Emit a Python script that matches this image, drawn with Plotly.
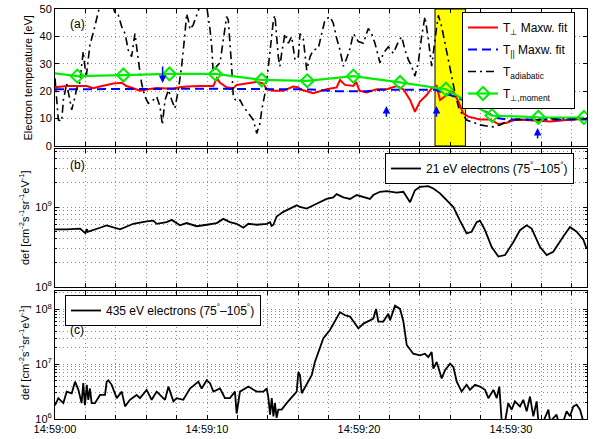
import plotly.graph_objects as go

# ---------------- data (seconds after 14:59:00) ----------------
tick_vals = [0, 2, 4, 6, 8, 10, 12, 14, 16, 18, 20, 22, 24, 26, 28, 30, 32, 34]
tick_text = ["14:59:00", "", "", "", "", "14:59:10", "", "", "", "", "14:59:20",
             "", "", "", "", "14:59:30", "", ""]

# Panel (a): electron temperatures [eV]
t_perp = [0, 0.77, 2.09, 2.52, 2.96, 3.84, 4.39, 4.7, 5.15, 5.59, 6.14, 6.69, 7.35, 7.79,
          8.22, 8.66, 9.54, 10.42, 10.64, 10.86, 11.29, 11.73, 11.95, 12.61, 13.27, 13.71,
          13.93, 14.37, 15.02, 15.68, 16.01, 16.12, 16.99, 17.87, 18.53, 18.75, 19.08, 19.63,
          19.81, 20.03, 20.5, 21.16, 21.82, 22.48, 22.92, 23.36, 23.68, 24.01, 24.45, 24.78,
          25.11, 25.33, 25.77, 26.21, 26.54, 26.86, 27.19, 27.96, 28.62, 29.17, 29.71, 30.37,
          31.47, 32.57, 33.66, 34.76, 35.0]
T_perp = [21.4, 21.9, 21.9, 21.1, 21.7, 22.8, 23.1, 21.9, 21.1, 20.2, 20.7, 21.2, 21.0, 21.0,
          21.4, 21.7, 21.9, 21.9, 24.7, 23.1, 21.4, 21.1, 22.3, 22.8, 23.4, 22.8,
          20.7, 20.2, 20.2, 21.7, 21.4, 20.7, 19.3, 20.7, 21.4, 24.1, 22.3, 21.9,
          23.4, 20.2, 19.5, 20.7, 20.7, 21.9, 20.7, 16.8, 12.5, 16.2, 18.6, 21.1,
          21.9, 16.8, 18.6, 19.8, 16.2, 11.9, 10.7, 9.7, 9.7, 8.0, 8.5, 9.7,
          9.2, 8.9, 9.5, 9.9, 9.9]

t_par = [0, 5, 10, 16, 16.9, 18.5, 20.5, 21.4, 25.0, 26.0, 26.86, 27.74, 28.51, 29.06, 29.71, 32.0, 35.0]
T_par = [20.7, 20.9, 20.9, 20.7, 20.6, 20.0, 20.0, 20.5, 20.5, 18.6, 16.8, 14.4, 12.0, 10.2, 9.7, 9.7, 9.7]

t_adi = [0, 0.22, 0.44, 0.55, 0.77, 0.99, 1.10, 1.32, 1.43, 1.6, 1.86, 2.05, 2.3, 2.55, 2.85,
         3.2, 3.6, 3.95, 4.17, 4.39, 4.61, 4.82, 5.04, 5.26, 5.48, 5.70, 5.92, 6.14, 6.47,
         6.69, 6.91, 7.06, 7.24, 7.46, 7.68, 7.89, 8.11, 8.33, 8.55, 8.66, 8.77, 8.88, 9.1,
         9.32, 9.54, 9.85, 10.2, 10.31, 10.42, 10.64, 10.86, 11.07, 11.29, 11.4, 11.51,
         11.62, 11.73, 11.95, 12.17, 12.39, 12.72, 13.05, 13.27, 13.49, 13.6, 13.82, 14.04,
         14.26, 14.37, 14.47, 14.69, 14.8, 14.91, 15.13, 15.35, 15.57, 15.79, 16.01,
         16.12, 16.34, 16.45, 16.56, 16.78, 16.99, 17.32, 17.54, 17.76, 18.09, 18.31, 18.53,
         18.75, 18.97, 19.19, 19.41, 19.63, 19.96, 20.29, 20.61, 20.83, 21.05, 21.38, 21.6,
         21.93, 22.26, 22.59, 22.81, 23.03, 23.25, 23.46, 23.68, 23.9, 24.12, 24.34, 24.56,
         24.78, 25.0, 25.22, 25.44, 25.66, 25.88, 26.1, 26.32, 26.54, 26.75, 27.08, 27.52,
         27.96, 28.4, 28.84, 29.28, 29.71, 30.37, 31.47, 32.78, 34.1, 34.87, 35.0]
T_adi = [24.7, 9.5, 9.0, 16.8, 22.8, 15.6, 13.2, 18.0, 21.1, 22.0, 34.5, 25.0, 37.0, 42.0, 50.5,
         57.0, 56.0, 48.3, 47.7, 43.5, 41.0, 35.0, 32.6, 41.0, 31.4, 22.8, 18.0, 15.6, 16.8,
         18.0, 14.4, 7.7, 16.8, 20.4, 16.8, 13.7, 20.4, 29.0, 41.0, 48.3, 46.0, 42.5, 44.3,
         47.3, 50.5, 56.0, 42.5, 36.4, 25.9, 29.1, 30.4, 38.9, 47.2, 46.0, 38.9,
         29.1, 18.0, 16.2, 16.8, 14.4, 12.0, 9.5, 4.6, 8.3, 13.2, 19.3, 29.1,
         38.9, 46.0, 47.7, 32.6, 29.1, 33.8, 41.0, 37.5, 39.9, 31.4, 32.6,
         41.0, 38.9, 33.8, 27.7, 32.6, 35.0, 35.6, 41.0, 46.0, 47.2, 44.8, 39.3,
         35.0, 29.1, 32.0, 35.6, 41.0, 38.1, 37.5, 42.9, 41.0, 37.5, 30.4, 33.8,
         36.2, 33.8, 38.1, 39.9, 35.0, 31.4, 29.1, 25.5, 30.4, 39.9, 47.2, 38.9,
         29.1, 38.9, 47.7, 43.5, 37.5, 30.4, 25.5, 19.3, 14.4, 12.0, 9.5, 8.5,
         7.7, 7.3, 7.0, 7.7, 8.9, 9.7, 9.5, 10.0, 10.0, 10.3, 10.3]

t_mom = [-1.55, 1.47, 4.50, 7.53, 10.55, 13.6, 16.6, 19.63, 22.7, 25.72, 28.75, 31.8, 34.8]
T_mom = [27.5, 25.5, 25.9, 26.3, 26.3, 24.1, 23.8, 25.5, 23.2, 20.7, 11.1, 10.5, 10.4]

# interval highlighted in yellow [s]
yellow_span = [25.0, 27.0]

# blue arrows: (time, tail, head) in eV
arrow_t = [7.08, 21.8, 25.1, 31.75]
arrow_tail = [29.6, 10.1, 10.1, 2.2]
arrow_head = [23.0, 14.6, 14.6, 6.6]

# Panel (b): 21 eV electron differential energy flux
t_21 = [0, 0.77, 1.65, 2.0, 2.09, 2.15, 2.96, 3.4, 4.28, 5.15, 6.03, 6.47, 6.69, 7.35, 7.68,
        8.22, 8.66, 9.32, 9.98, 10.64, 11.07, 11.51, 11.95, 12.39, 12.72, 13.27, 13.93,
        14.15, 14.25, 14.37, 14.58, 15.02, 15.46, 15.9, 16.12, 16.56, 17.21, 17.87, 18.31,
        18.53, 18.97, 19.41, 19.85, 20.72, 20.94, 21.38, 21.82, 22.48, 22.92, 23.36, 23.68,
        24.01, 24.56, 24.89, 25.33, 25.77, 26.21, 26.64, 27.08, 27.41, 27.74, 27.96, 28.29,
        28.73, 29.17, 29.61, 30.15, 30.59, 31.03, 31.36, 31.91, 32.35, 32.78, 33.44, 33.88,
        34.32, 34.76, 34.98]
def_21 = [5.25e8, 5.25e8, 5.37e8, 4.7e8, 5.3e8, 4.9e8, 5.5e8, 5.9e8, 5.25e8, 6.17e8, 6.6e8,
          6.76e8, 6.17e8, 6.46e8, 6.9e8, 5.9e8, 6.3e8, 5.75e8, 6.0e8, 6.3e8, 7.1e8, 6.46e8,
          6.17e8, 5.5e8, 6.17e8, 6.0e8, 6.17e8, 6.46e8, 5.8e8, 6.0e8, 7.6e8, 8.7e8, 9.55e8,
          1.05e9, 1.0e9, 9.55e8, 1.1e9, 1.26e9, 1.32e9, 1.45e9, 1.32e9, 1.26e9, 1.41e9,
          1.26e9, 1.41e9, 1.55e9, 1.58e9, 1.51e9, 1.55e9, 1.15e9, 1.62e9, 1.78e9, 1.82e9,
          1.70e9, 1.48e9, 1.20e9, 1.0e9, 6.76e8, 4.68e8, 4.9e8, 6.46e8, 6.76e8, 5.13e8,
          3.16e8, 2.4e8, 2.51e8, 3.63e8, 5.13e8, 5.9e8, 5.37e8, 3.16e8, 2.51e8, 2.75e8,
          4.27e8, 5.62e8, 4.9e8, 3.9e8, 3.0e8]

# Panel (c): 435 eV electron differential energy flux
t_435 = [0, 0.22, 0.55, 0.77, 1.1, 1.32, 1.54, 1.75, 1.86, 1.97, 2.09, 2.19, 2.3, 2.41, 2.63,
         2.96, 3.29, 3.4, 3.51, 3.73, 4.06, 4.39, 4.61, 4.93, 5.37, 5.59, 6.03, 6.36, 6.69,
         6.91, 7.24, 7.46, 7.79, 8.0, 8.44, 8.88, 9.21, 9.43, 9.65, 9.87, 9.98, 10.2, 10.42,
         10.86, 11.18, 11.51, 11.84, 11.95, 12.17, 12.72, 13.27, 13.71, 13.93, 14.04, 14.15,
         14.26, 14.37, 14.47, 14.58, 14.69, 14.91, 15.24, 15.68, 15.9, 16.01, 16.12, 16.23,
         16.56, 16.89, 17.1, 17.32, 17.65, 18.09, 18.53, 18.75, 19.08, 19.41, 19.96, 20.29,
         20.72, 20.94, 21.12, 21.27, 21.6, 21.93, 22.04, 22.37, 22.7, 22.92, 23.14, 23.57,
         24.01, 24.34, 24.56, 24.78, 24.89, 25.11, 25.44, 25.66, 25.99, 26.21, 26.43, 26.75,
         27.08, 27.3, 27.63, 27.96, 28.29, 28.51, 28.84, 29.06, 29.23, 29.39, 29.61, 29.82,
         30.04, 30.26, 30.59, 30.81, 31.03, 31.25, 31.47, 31.69, 31.8, 32.13, 32.46, 32.57,
         33.0, 33.11, 33.44, 33.66, 33.88, 34.1, 34.32, 34.54, 34.76]
def_435 = [1.78e6, 2.4e6, 1.95e6, 3.16e6, 2.95e6, 4.8e6, 3.4e6, 1.95e6, 4.5e6, 1.78e6, 4.2e6,
           2.24e6, 3.6e6, 1.95e6, 1.95e6, 2.75e6, 2.75e6, 4.8e6, 5.1e6, 4.2e6, 2.4e6, 3.16e6,
           1.7e6, 2.24e6, 2.75e6, 2.4e6, 3.4e6, 2.24e6, 3.16e6, 2.75e6, 2.24e6, 3.9e6, 2.1e6,
           2.4e6, 2.24e6, 3.6e6, 4.2e6, 4.8e6, 3.6e6, 4.5e6, 5.1e6, 4.5e6, 3.16e6, 3.6e6,
           2.4e6, 2.4e6, 3.16e6, 1.26e6, 3.16e6, 3.9e6, 3.16e6, 3.16e6, 3.6e6, 2.4e6, 1.2e6,
           2.4e6, 1.12e6, 1.95e6, 1.05e6, 1.48e6, 1.48e6, 1.95e6, 2.75e6, 3.16e6, 7.2e6,
           6.3e6, 2.95e6, 4.2e6, 6.3e6, 1.1e7, 1.66e7, 2.95e7, 4.2e7, 6.8e7, 8.9e7, 7.8e7,
           7.4e7, 4.5e7, 5.5e7, 6.3e7, 6.8e7, 1.02e8, 6.0e7, 6.0e7, 8.3e7, 6.3e7, 1.17e8,
           1.02e8, 6.0e7, 2.24e7, 1.55e7, 1.45e7, 1.55e7, 1.35e7, 1.66e7, 8.3e6, 1.1e7,
           5.5e6, 7.8e6, 1.02e7, 8.9e6, 4.8e6, 3.16e6, 4.2e6, 3.4e6, 4.2e6, 3.9e6, 3.4e6,
           2.4e6, 3.4e6, 2.4e6, 3.9e6, 0.9e6, 0.9e6, 1.95e6, 1.48e6, 2.1e6, 1.7e6, 2.24e6,
           1.38e6, 2.57e6, 1.12e6, 2.1e6, 0.9e6, 0.9e6, 1.48e6, 0.9e6, 1.2e6, 0.9e6, 0.9e6,
           1.38e6, 1.12e6, 1.7e6, 1.82e6, 1.48e6, 0.9e6]

# ---------------- figure ----------------
FONT = "Liberation Sans, Arial, Helvetica, sans-serif"
GRID = "#8c8c8c"
GDASH = "1px,3px"
W, H = 598, 439


def px(x):
    return x / W


def py(y):
    return 1 - y / H


XL, XR = px(55), px(587)

fig = go.Figure()

fig.add_trace(go.Scatter(x=t_perp, y=T_perp, mode="lines", name="T<sub>⊥</sub> Maxw. fit",
                         legendgroup="g1",
                         line=dict(color="#ff0000", width=2), xaxis="x", yaxis="y", legend="legend"))
fig.add_trace(go.Scatter(x=t_par, y=T_par, mode="lines", name="T<sub>||</sub> Maxw. fit",
                         legendgroup="g2",
                         line=dict(color="#0000ff", width=2, dash="9px,5px"), xaxis="x", yaxis="y",
                         legend="legend"))
fig.add_trace(go.Scatter(x=t_adi, y=T_adi, mode="lines", name="T<sub>adiabatic</sub>",
                         legendgroup="g3",
                         line=dict(color="black", width=1.6, dash="8px,4px,2px,4px"), xaxis="x",
                         yaxis="y", legend="legend"))
fig.add_trace(go.Scatter(x=t_mom, y=T_mom, mode="lines+markers", name="T<sub>⊥,moment</sub>",
                         legendgroup="g4",
                         line=dict(color="#00ee00", width=2.2),
                         marker=dict(symbol="diamond-open", size=10, color="#00ee00",
                                     line=dict(width=2, color="#00ee00")),
                         xaxis="x", yaxis="y", legend="legend"))
fig.add_trace(go.Scatter(x=t_21, y=def_21, mode="lines",
                         name="21 eV electrons (75<sup>°</sup>–105<sup>°</sup>)",
                         line=dict(color="black", width=1.8), xaxis="x2", yaxis="y2",
                         legend="legend2"))
fig.add_trace(go.Scatter(x=t_435, y=def_435, mode="lines",
                         name="435 eV electrons (75<sup>°</sup>–105<sup>°</sup>)",
                         line=dict(color="black", width=1.8), xaxis="x3", yaxis="y3",
                         legend="legend3"))


def xax(labels, anchor):
    return dict(domain=[XL, XR], range=[0, 35], anchor=anchor, tickmode="array",
                tickvals=tick_vals, ticktext=tick_text if labels else [""] * len(tick_vals),
                showticklabels=labels, ticks="inside", ticklen=4, tickcolor="black",
                showline=True, linecolor="black", linewidth=1, mirror="ticks",
                showgrid=True, gridcolor=GRID, griddash=GDASH, gridwidth=1,
                zeroline=False, automargin=False, tickfont=dict(size=11, color="black"))


minor_b = [k * 10 ** e for e in (8, 9) for k in range(2, 10) if k * 10 ** e < 5.4e9]
minor_c = [k * 10 ** e for e in (6, 7, 8) for k in range(2, 10) if k * 10 ** e < 2.2e8]


def ylog(dom, rng, anchor, vals, texts, minor_vals):
    return dict(domain=dom, type="log", range=rng, anchor=anchor,
                tickmode="array", tickvals=vals, ticktext=texts, ticks="inside", ticklen=4,
                tickcolor="black", showline=True, linecolor="black", mirror="ticks",
                showgrid=True, gridcolor=GRID, griddash=GDASH, zeroline=False,
                automargin=False, tickfont=dict(size=11, color="black"),
                minor=dict(tickmode="array", tickvals=minor_vals, ticks="inside", ticklen=2,
                           tickcolor="black", showgrid=True, gridcolor=GRID, griddash=GDASH))


layout = dict(
    template="none",
    width=W, height=H, margin=dict(l=0, r=0, t=0, b=0, autoexpand=False),
    paper_bgcolor="white", plot_bgcolor="white",
    font=dict(family=FONT, size=11, color="black"),
    xaxis=xax(False, "y"),
    xaxis2=xax(False, "y2"),
    xaxis3=xax(True, "y3"),
    yaxis=dict(domain=[py(146), py(9)], range=[0, 50], anchor="x", tickmode="array",
               tickvals=[0, 10, 20, 30, 40, 50], ticks="inside", ticklen=4, tickcolor="black",
               showline=True, linecolor="black", mirror="ticks", showgrid=True,
               gridcolor=GRID, griddash=GDASH, zeroline=False, automargin=False,
               tickfont=dict(size=11, color="black")),
    yaxis2=ylog([py(287), py(149)], [8, 9.725], "x2", [1e8, 1e9],
                ["10<sup>8</sup>", "10<sup>9</sup>"], minor_b),
    yaxis3=ylog([py(419), py(291)], [6, 8.335], "x3", [1e6, 1e7, 1e8],
                ["10<sup>6</sup>", "10<sup>7</sup>", "10<sup>8</sup>"], minor_c),
    legend=dict(x=px(462), y=py(12), xanchor="left", yanchor="top", bgcolor="white",
                bordercolor="black", borderwidth=1, font=dict(size=12, color="black"),
                tracegroupgap=3, itemwidth=30),
    legend2=dict(x=px(385), y=py(153), xanchor="left", yanchor="top", bgcolor="white",
                 bordercolor="black", borderwidth=1, font=dict(size=12, color="black")),
    legend3=dict(x=px(65), y=py(295), xanchor="left", yanchor="top", bgcolor="white",
                 bordercolor="black", borderwidth=1, font=dict(size=12, color="black")),
    showlegend=True,
)
fig.update_layout(**layout)

# yellow interval
fig.add_shape(type="rect", xref="x", yref="y", x0=yellow_span[0], x1=yellow_span[1], y0=0, y1=50,
              fillcolor="#ffff00", line=dict(color="black", width=1), layer="between")

# blue arrows
for t, a, b in zip(arrow_t, arrow_tail, arrow_head):
    fig.add_annotation(x=t, y=b, ax=t, ay=a, xref="x", yref="y", axref="x", ayref="y",
                       text="", showarrow=True, arrowhead=2, arrowsize=1, arrowwidth=1.5,
                       arrowcolor="#0000ff")

# panel labels
for lab, yy in (("(a)", 24), ("(b)", 165), ("(c)", 330)):
    fig.add_annotation(x=px(77), y=py(yy), xref="paper", yref="paper", text=lab,
                       xanchor="center", yanchor="middle",
                       showarrow=False, font=dict(size=12, color="black"))

# axis titles
ylab = "def [cm<sup>-2</sup>s<sup>-1</sup>sr<sup>-1</sup>eV<sup>-1</sup>]"
for txt, xx, yy in (("Electron temperature [eV]", 27, 78.5), (ylab, 24, 218), (ylab, 24, 353)):
    fig.add_annotation(x=px(xx), y=py(yy), xref="paper", yref="paper", text=txt,
                       textangle=-90, xanchor="center", yanchor="middle", showarrow=False,
                       font=dict(size=11, color="black"))

# the page's default 8px body margin would shift the figure; remove it
fig.write_html("out.html", config={"displayModeBar": False},
               post_script="document.body.style.margin='0';document.body.style.overflow='hidden';")
